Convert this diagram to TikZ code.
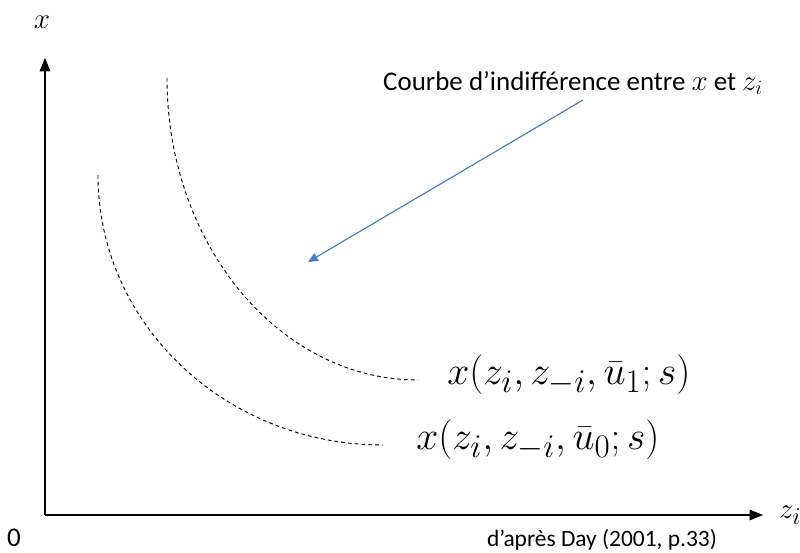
\documentclass[tikz,border=0pt]{standalone}
\usepackage{fontspec}
\setmainfont{Carlito}
\usetikzlibrary{arrows.meta,positioning,calc}

\begin{document}
\begin{tikzpicture}[x=0.03cm,y=0.03cm,
axis/.style={-{Triangle[length=4mm,width=3.2mm]},line width=0.9pt},
curve/.style={dashed,dash pattern=on 3.2pt off 2.6pt,line width=0.8pt},
pointer/.style={-{Triangle[length=3mm,width=2.6mm]},line width=1pt,color=arrowblue},
lbl/.style={inner sep=0pt,anchor=west},
mathlbl/.style={inner sep=0pt,anchor=west,font=\fontsize{24.88}{28}\selectfont,scale=1.36,transform shape}]
\definecolor{arrowblue}{RGB}{74,126,187}
\useasboundingbox (0,0) rectangle (800,553);
% axes
\coordinate (origin) at (45,38);
\coordinate (ytop) at (45,495);
\coordinate (xend) at (763,38);
\draw[axis](origin)--(ytop);
\draw[axis](origin)--(xend);
\node[font=\fontsize{24.88}{28}\selectfont](ylabel) at (42,531){$x$};
\node[font=\fontsize{24.88}{28}\selectfont,anchor=west,inner sep=0pt](xlabel) at (779,38){$z_i$};
\node[font=\fontsize{23}{26}\selectfont](zero) at (14,15){0};
% indifference curves
\draw[curve](167,475) arc[start angle=180,end angle=270,x radius=251,y radius=302];
\draw[curve](98,378) arc[start angle=180,end angle=270,x radius=285,y radius=270];
\node[mathlbl](u1) at (447,178){$x(z_i,z_{-i},\bar{u}_1;s)$};
\node[mathlbl](u0) at (416,113){$x(z_i,z_{-i},\bar{u}_0;s)$};
% annotation
\node[lbl,font=\fontsize{23}{27}\selectfont](note) at (383,470){Courbe d’indifférence entre $x$ et $z_i$};
\coordinate (tip) at (308,291);
\coordinate (start) at (583,453);
\draw[pointer](start)--(tip);
\node[font=\fontsize{20}{23}\selectfont](source) at (602,13){d’après Day (2001, p.33)};
\end{tikzpicture}
\end{document}
